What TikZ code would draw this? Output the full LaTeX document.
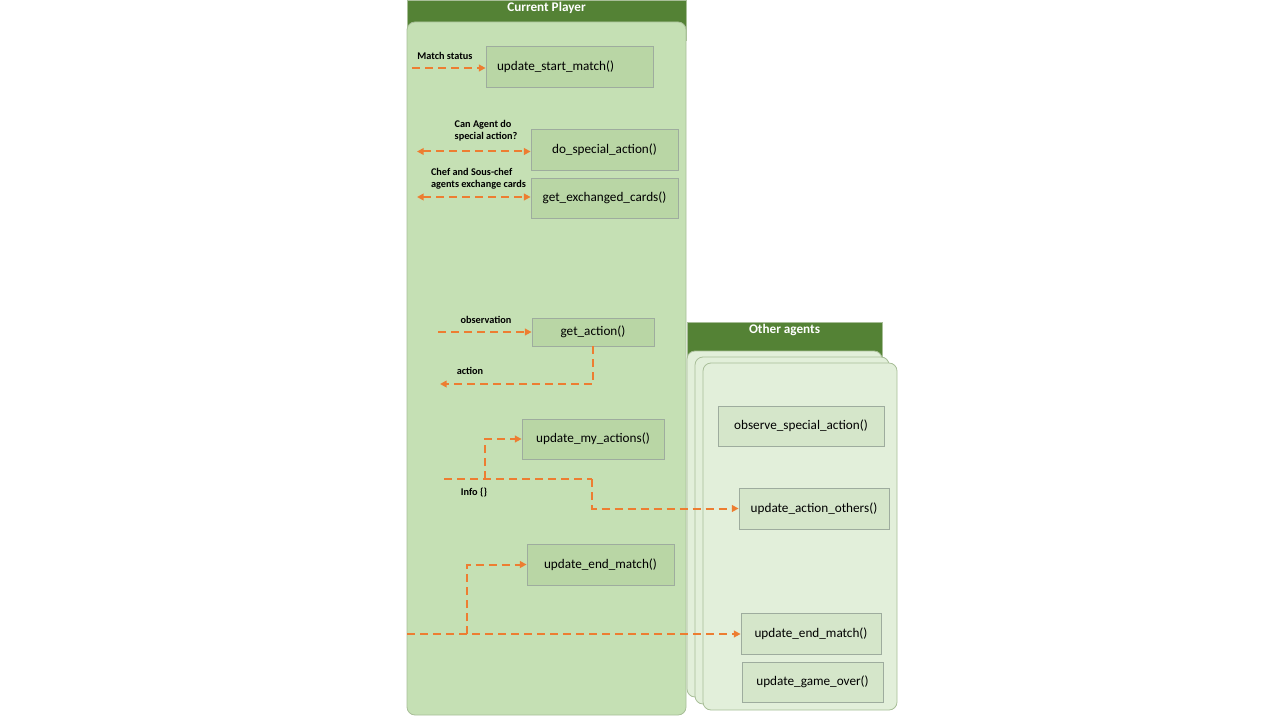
\documentclass[tikz,border=0pt]{standalone}
\usepackage{fontspec}
\setmainfont{Carlito}
\usetikzlibrary{arrows.meta,positioning}
\definecolor{hdgreen}{RGB}{84,130,53}
\definecolor{cpfill}{RGB}{197,224,180}
\definecolor{cpline}{RGB}{168,190,152}
\definecolor{oafill}{RGB}{226,239,218}
\definecolor{cpbox}{RGB}{185,214,165}
\definecolor{oabox}{RGB}{213,230,202}
\definecolor{boxline}{RGB}{158,172,158}
\definecolor{flow}{RGB}{237,125,49}

\tikzset{
  fnbox/.style={draw=boxline, line width=0.6pt, fill=cpbox, inner sep=0pt, font=\fontsize{9.9}{11}\selectfont},
  otherbox/.style={fnbox, fill=oabox},
  panel/.style={draw=cpline, line width=0.6pt, rounded corners=6pt},
  flowline/.style={draw=flow, line width=1.5pt, dash pattern={on 6pt off 3.75pt}},
  flowarrow/.style={flowline, -{Triangle[length=5pt,width=5pt]}},
  twoway/.style={flowline, {Triangle[length=5pt,width=5pt]}-{Triangle[length=5pt,width=5pt]}},
  lbl/.style={font=\fontsize{7.7}{9}\selectfont\bfseries, align=left},
  header/.style={font=\fontsize{9.9}{11}\selectfont\bfseries, text=white}
}

\begin{document}
\begin{tikzpicture}[x=0.75pt,y=0.75pt,yscale=-1,xscale=1]
  \useasboundingbox (0,0) rectangle (1280,720);

  %Shape: Current Player lane
  \draw [draw=cpline, fill=hdgreen] (407,0) rectangle (686,40);
  \draw [panel, fill=cpfill] (407,22) rectangle (686,715);
  % Text Node
  \node [header] (cphead) at (546.5,8) {Current Player};

  %Shape: Other agents lane (stacked)
  \draw [draw=cpline, fill=hdgreen] (687,322) rectangle (882,360);
  \draw [panel, fill=oafill] (687,351) rectangle (882,697);
  \draw [panel, fill=oafill] (695,357) rectangle (889,704);
  \draw [panel, fill=oafill] (703,363) rectangle (897,710);
  % Text Node
  \node [header] (oahead) at (784.5,330) {Other agents};

  %Shapes: functions of the current player
  \node [fnbox, minimum width=125.25pt, minimum height=30.75pt, text width=108.75pt, align=left] (ustart) at (569.5,66.5) {update\_start\_match()};
  \node [fnbox, minimum width=110.25pt, minimum height=30.75pt] (dospec) at (604.5,149.5) {do\_special\_action()};
  \node [fnbox, minimum width=110.25pt, minimum height=30pt] (getexch) at (604.5,198) {get\_exchanged\_cards()};
  \node [fnbox, minimum width=91.5pt, minimum height=21pt] (getact) at (593,332) {get\_action()};
  \node [fnbox, minimum width=106.5pt, minimum height=30pt] (umyact) at (593,439) {update\_my\_actions()};
  \node [fnbox, minimum width=110.25pt, minimum height=30.75pt] (uend) at (600.5,564.5) {update\_end\_match()};

  %Shapes: functions of the other agents
  \node [otherbox, minimum width=124.5pt, minimum height=30pt] (obsspec) at (801,426) {observe\_special\_action()};
  \node [otherbox, minimum width=112.5pt, minimum height=30.75pt] (uactoth) at (814,508.5) {update\_action\_others()};
  \node [otherbox, minimum width=105pt, minimum height=30.75pt] (uendoth) at (811,633.5) {update\_end\_match()};
  \node [otherbox, minimum width=105.75pt, minimum height=30pt] (ugover) at (812.5,682) {update\_game\_over()};

  %Free ends of the connectors
  \coordinate (ms) at (412,68);
  \coordinate (sp) at (417,151.5);
  \coordinate (ex) at (417,197);
  \coordinate (ob) at (438,332);
  \coordinate (ac) at (440,384);
  \coordinate (inf) at (444,479);
  \coordinate (infb) at (485,479);
  \coordinate (infc) at (592,479);
  \coordinate (em) at (407,634);
  \coordinate (emb) at (467,634);

  %Straight Lines
  \draw [flowarrow] (ms) -- (ms -| ustart.west);
  \draw [twoway] (sp) -- (sp -| dospec.west);
  \draw [twoway] (ex) -- (ex -| getexch.west);
  \draw [flowarrow] (ob) -- (getact.west);
  \draw [flowarrow] (getact.south) |- (ac);
  \draw [flowline] (inf) -- (infc);
  \draw [flowarrow] (infb) |- (umyact.west);
  \draw [flowarrow] (infc) |- (uactoth.west);
  \draw [flowarrow] (em) -- (em -| uendoth.west);
  \draw [flowarrow] (emb) |- (uend.west);

  % Text Node
  \node [lbl] (mslbl) at (445,56) {Match status};
  % Text Node
  \node [lbl] (splbl) at (486,130.5) {Can Agent do\\special action?};
  % Text Node
  \node [lbl] (exlbl) at (478.5,178.5) {Chef and Sous-chef\\agents exchange cards};
  % Text Node
  \node [lbl] (oblbl) at (486,320) {observation};
  % Text Node
  \node [lbl] (aclbl) at (470,371) {action};
  % Text Node
  \node [lbl] (inflbl) at (474,493) {Info \{\}};

\end{tikzpicture}
\end{document}
